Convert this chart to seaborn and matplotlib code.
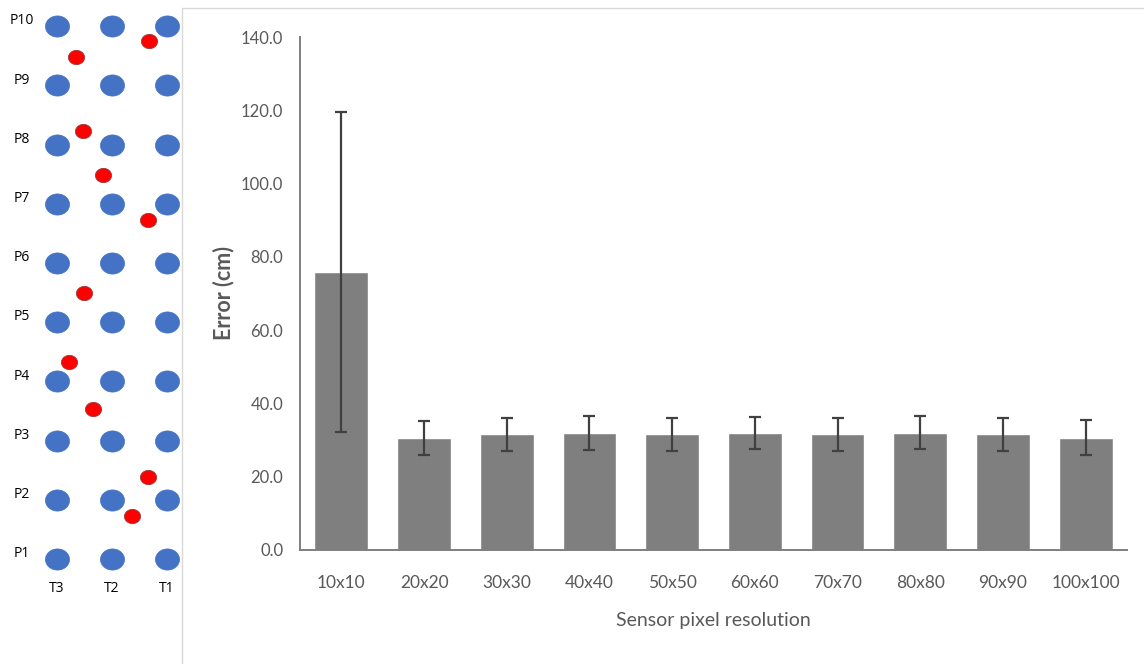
import numpy as np
import pandas as pd
import matplotlib
matplotlib.use("Agg")
import matplotlib.pyplot as plt
from matplotlib.patches import Rectangle
from matplotlib.path import Path
import seaborn as sns

# ---------------- data ----------------
categories = ["10x10", "20x20", "30x30", "40x40", "50x50",
              "60x60", "70x70", "80x80", "90x90", "100x100"]
errors_cm = [75.9, 30.6, 31.6, 32.0, 31.6, 32.0, 31.6, 32.0, 31.6, 30.6]
std_cm = [43.7, 4.6, 4.5, 4.6, 4.5, 4.4, 4.5, 4.5, 4.5, 4.8]
y_ticks = [0, 20, 40, 60, 80, 100, 120, 140]

# left schematic: sensor grid (rows P1..P10, columns T3, T2, T1)
row_labels = ["P1", "P2", "P3", "P4", "P5", "P6", "P7", "P8", "P9", "P10"]
col_labels = ["T3", "T2", "T1"]
# red target positions (column units, row units)
target_x = [0.35, 1.67, 0.47, 0.84, 1.65, 0.49, 0.22, 0.65, 1.65, 1.36]
target_y = [9.48, 9.75, 8.23, 7.49, 6.73, 5.49, 4.33, 3.53, 2.39, 1.73]

# ---------------- figure ----------------
sns.set_theme(style="white")
plt.rcParams["font.family"] = ["Lato", "DejaVu Sans"]

W, H = 1144, 664
fig = plt.figure(figsize=(W / 100, H / 100), dpi=100)

def fx(px):
    return px / W

def fy(py):
    return 1 - py / H

# light frame around chart area (top and left edges visible)
fig.patches.append(Rectangle((fx(182), -0.05), 1.1 - fx(182), fy(8) + 0.05, transform=fig.transFigure,
                             fill=False, edgecolor="#d9d9d9", linewidth=1.0, zorder=0))

# ---------------- left panel ----------------
axl = fig.add_axes([0, 0, fx(180), 1])
unit_x, unit_y = 55.0, 59.2
axl.set_xlim((0 - 57) / unit_x, (180 - 57) / unit_x)
axl.set_ylim(1 - (664 - 559) / unit_y, 1 + 559 / unit_y)
axl.axis("off")

grid = pd.DataFrame([(c, r + 1) for r in range(len(row_labels)) for c in range(len(col_labels))],
                    columns=["col", "row"])
theta = np.linspace(0, 2 * np.pi, 60)
ellipse = Path(np.column_stack([np.cos(theta), 0.88 * np.sin(theta)]), closed=True)
sns.scatterplot(data=grid, x="col", y="row", ax=axl, marker=ellipse, s=300,
                color="#4472C4", edgecolor="#4472C4", linewidth=0.5, legend=False, zorder=2)
targets = pd.DataFrame({"x": target_x, "y": target_y})
sns.scatterplot(data=targets, x="x", y="y", ax=axl, marker=ellipse, s=135,
                color="#FF0000", edgecolor="#9a3a3a", linewidth=0.6, legend=False, zorder=3)
axl.set_xlabel("")
axl.set_ylabel("")
for i, lab in enumerate(row_labels):
    axl.text(-0.64, i + 1 + 0.09, lab, ha="center", va="center", fontsize=10,
             family=["Open Sans", "DejaVu Sans"], color="#000000")
for j, lab in enumerate(col_labels):
    axl.text(j, 1 - 30 / unit_y, lab, ha="center", va="center", fontsize=10,
             family=["Open Sans", "DejaVu Sans"], color="#000000")

# ---------------- bar chart ----------------
ax = fig.add_axes([fx(300), fy(550), fx(1127) - fx(300), fy(37) - fy(550)])
df = pd.DataFrame({"res": categories, "err": errors_cm, "sd": std_cm})
sns.barplot(data=df, x="res", y="err", ax=ax, color="#7f7f7f", saturation=1,
            width=0.65, errorbar=None, zorder=2)
xpos = np.arange(len(categories))
ax.errorbar(xpos, df["err"], yerr=df["sd"], fmt="none", ecolor="#404040",
            elinewidth=1.6, capsize=4, capthick=1.6, zorder=3)

ax.set_xlim(-0.5, len(categories) - 0.5)
ax.set_ylim(0, 140)
ax.set_yticks(y_ticks)
ax.set_yticklabels([f"{v:.1f}" for v in y_ticks])

# Excel-style x ticks at category boundaries, labels at centres
ax.set_xticks(np.arange(-0.5, len(categories), 1.0))
ax.set_xticklabels([])
ax.set_xticks(xpos, minor=True)
ax.set_xticklabels(categories, minor=True)
ax.tick_params(axis="x", which="major", length=5, width=1.3, color="#7f7f7f", direction="out")
ax.tick_params(axis="x", which="minor", length=0, pad=18, labelsize=12.5, labelcolor="#595959")
ax.tick_params(axis="y", which="major", length=4, width=1.3, color="#7f7f7f", direction="out",
               pad=8, labelsize=12, labelcolor="#595959")

for side in ["top", "right"]:
    ax.spines[side].set_visible(False)
for side in ["left", "bottom"]:
    ax.spines[side].set_color("#7f7f7f")
    ax.spines[side].set_linewidth(1.4)

ax.set_xlabel("Sensor pixel resolution", fontsize=14, color="#595959", labelpad=15)
ax.set_ylabel("Error (cm)", fontsize=15.5, color="#595959", fontweight="bold", labelpad=5)
ax.grid(False)

fig.savefig("out.png", dpi=100)
